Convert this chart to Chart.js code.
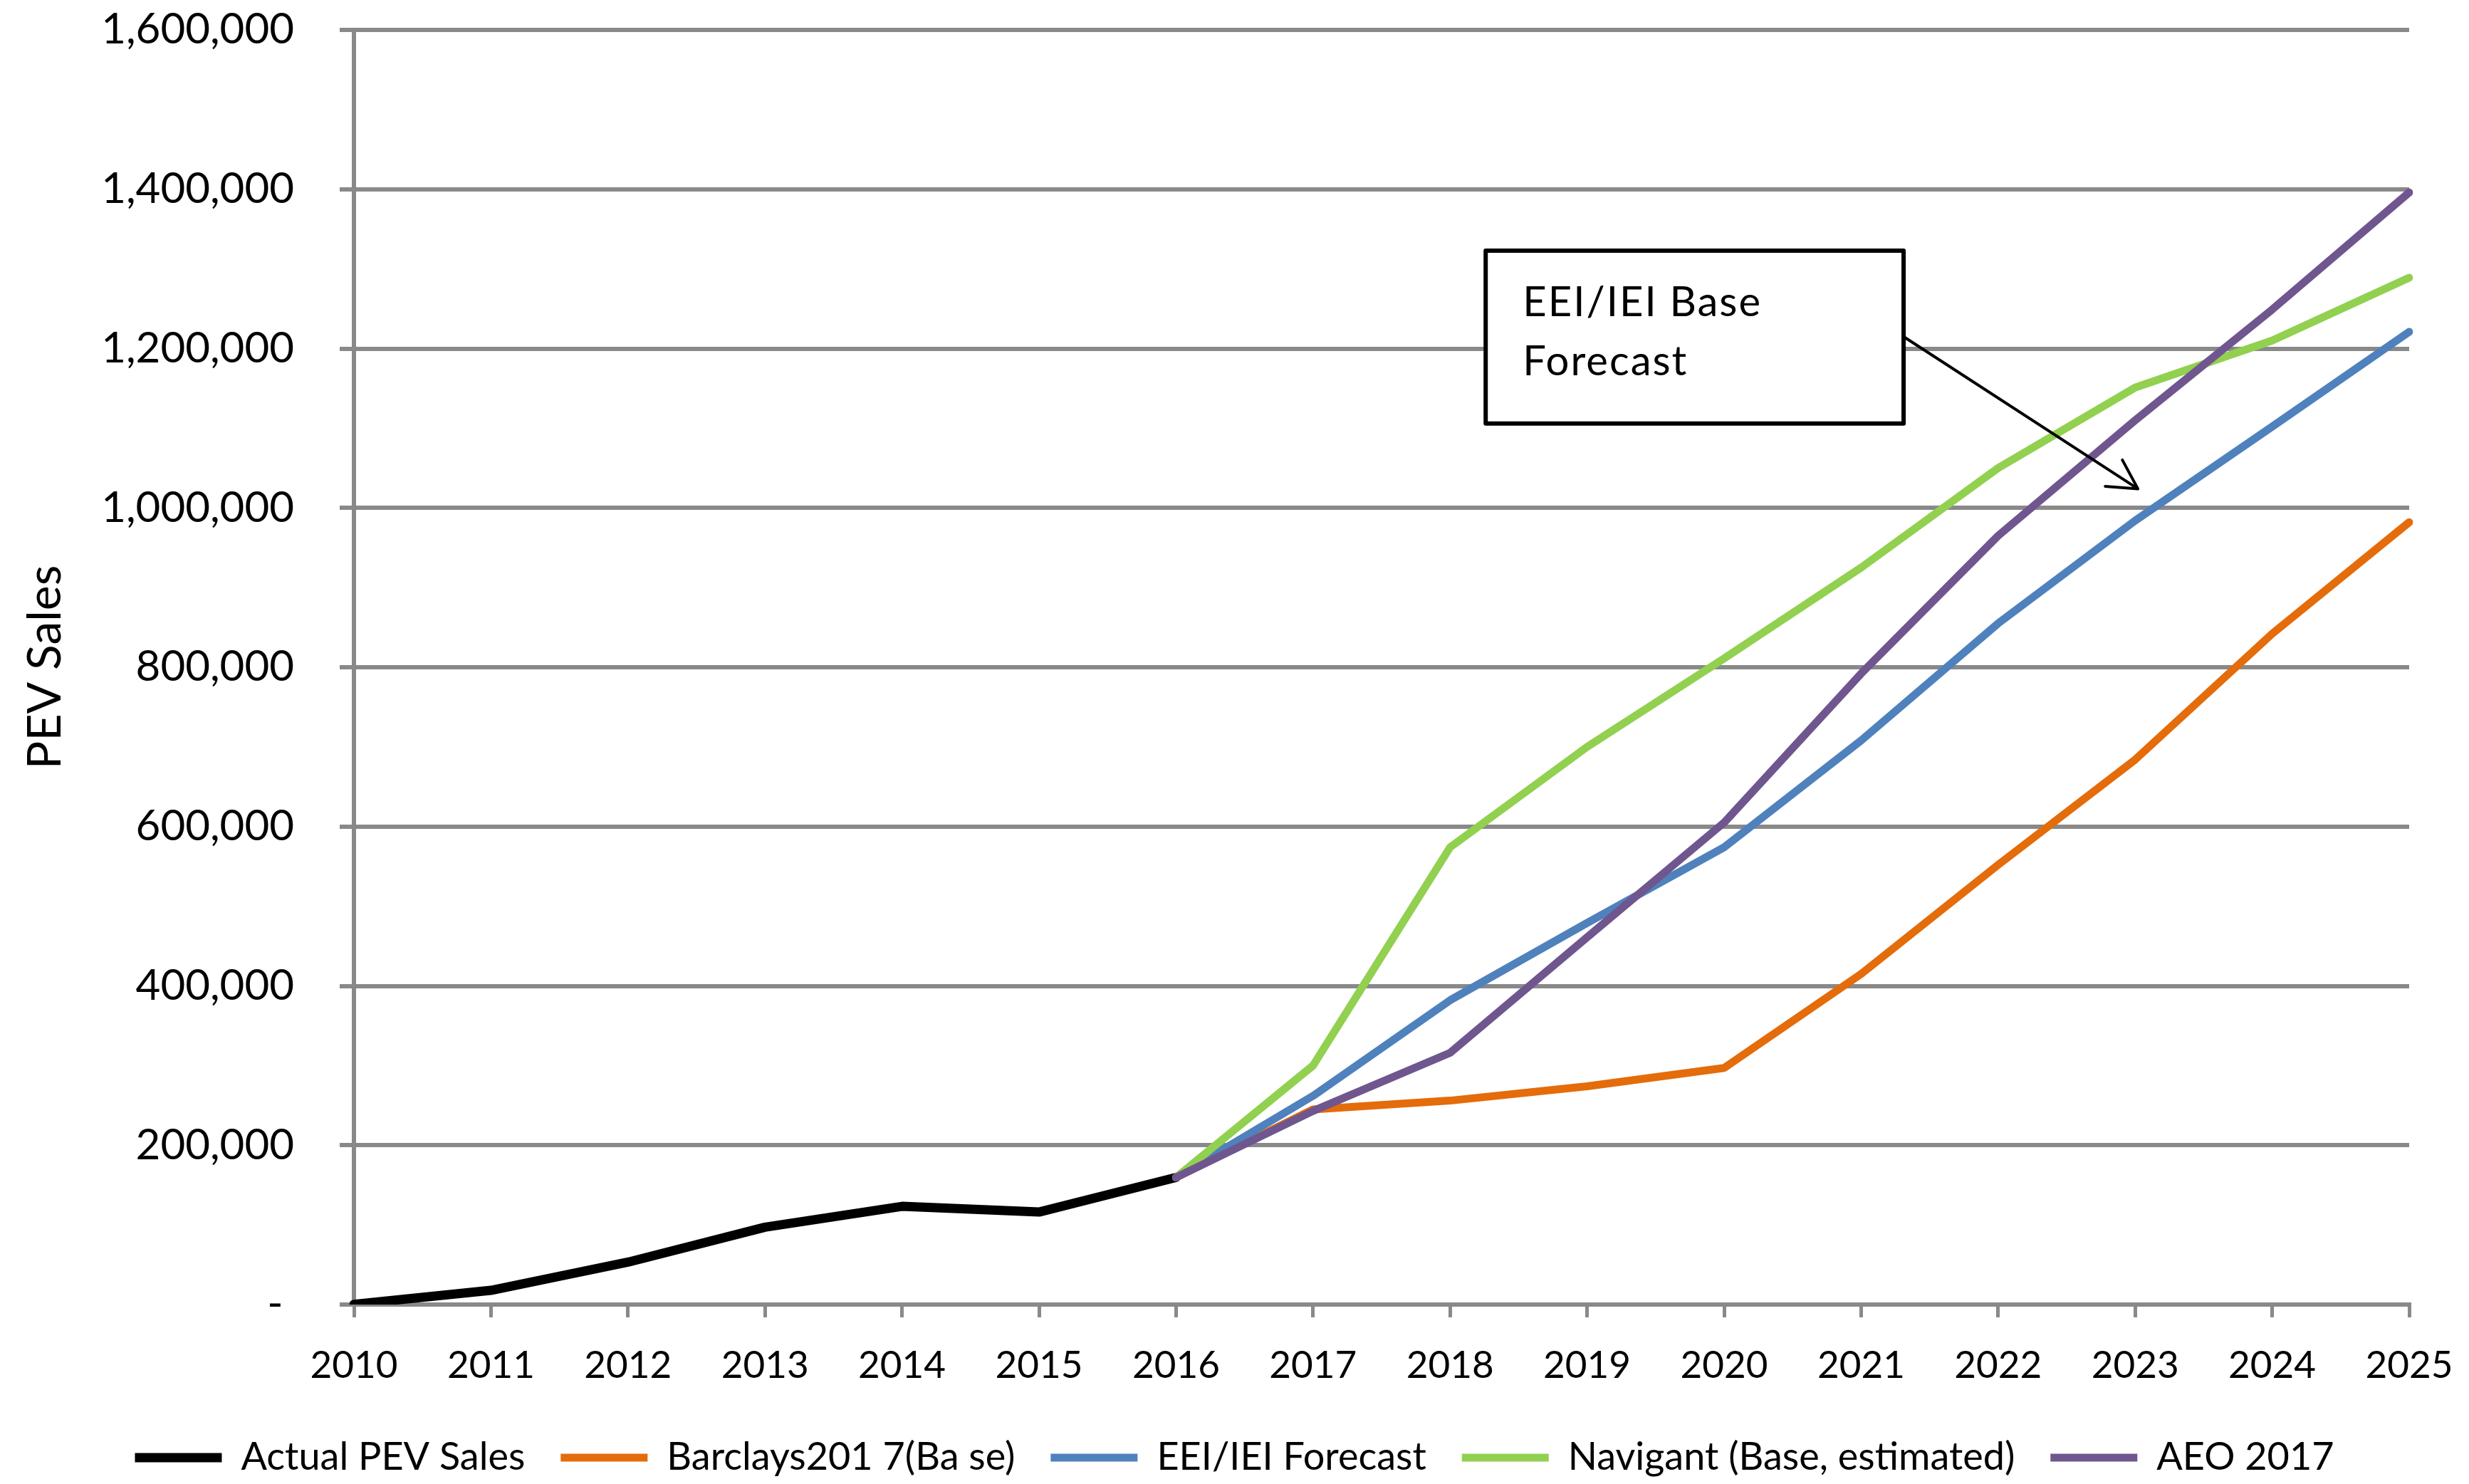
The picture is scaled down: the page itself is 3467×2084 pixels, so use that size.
<!DOCTYPE html>
<html>
<head>
<meta charset="utf-8">
<title>PEV Sales</title>
<script src="https://cdn.jsdelivr.net/npm/chart.js@4"></script>
<style>
  html, body { margin: 0; padding: 0; background: #fff; }
  #wrap { width: 3467px; height: 2084px; position: relative; }
</style>
</head>
<body>
<div id="wrap"><canvas id="pevChart"></canvas></div>
<script>
// Years on the x axis
const years = ['2010','2011','2012','2013','2014','2015','2016','2017','2018','2019','2020','2021','2022','2023','2024','2025'];

// Sales per series (null = no value for that year)
const actualSales = [345, 17800, 53200, 97100, 123300, 116100, 159600, null, null, null, null, null, null, null, null, null];
const barclays = [null, null, null, null, null, null, 159600, 245000, 256000, 274000, 297000, 415000, 552000, 684000, 842000, 982000];
const eeiForecast = [null, null, null, null, null, null, 159600, 262000, 382000, 479000, 574000, 708000, 855000, 984000, 1102000, 1221000];
const navigant = [null, null, null, null, null, null, 159600, 300000, 574000, 700000, 811000, 925000, 1050000, 1151000, 1210000, 1289000];
const aeo2017 = [null, null, null, null, null, null, 159600, 243000, 316000, 461000, 605000, 792000, 965000, 1110000, 1249000, 1396000];

const seriesNames = ['Actual PEV Sales', 'Barclays201 7(Ba se)', 'EEI/IEI Forecast', 'Navigant (Base, estimated)', 'AEO 2017'];
const seriesColors = ['#000000', '#E46C0A', '#4F81BD', '#92D050', '#6F568F'];
const seriesData = [actualSales, barclays, eeiForecast, navigant, aeo2017];

// Callout: box corners and arrow in data units (category index, sales)
const calloutLines = ['EEI/IEI Base', 'Forecast'];
const calloutBox = { x0: 8.26, x1: 11.31, y0: 1323000, y1: 1106000 };
const calloutArrow = { fromX: 11.31, fromY: 1215000, toX: 13.02, toY: 1024000 };

const FONT = 'Lato';
const GRID = '#898989';

const calloutPlugin = {
    id: 'callout',
    afterDatasetsDraw(chart) {
        const { ctx, scales: { x, y } } = chart;
        const left = x.getPixelForValue(calloutBox.x0);
        const right = x.getPixelForValue(calloutBox.x1);
        const top = y.getPixelForValue(calloutBox.y0);
        const bottom = y.getPixelForValue(calloutBox.y1);
        ctx.save();
        ctx.fillStyle = '#fff';
        ctx.fillRect(left, top, right - left, bottom - top);
        ctx.lineWidth = 6;
        ctx.strokeStyle = '#000';
        ctx.lineJoin = 'round';
        ctx.strokeRect(left, top, right - left, bottom - top);

        ctx.fillStyle = '#000';
        ctx.font = '58px ' + FONT;
        ctx.letterSpacing = '2px';
        ctx.textBaseline = 'alphabetic';
        ctx.textAlign = 'left';
        ctx.fillText(calloutLines[0], left + 52, top + 92);
        ctx.fillText(calloutLines[1], left + 52, top + 175);
        ctx.letterSpacing = '0px';

        // arrow with open head
        const ax = x.getPixelForValue(calloutArrow.fromX);
        const ay = y.getPixelForValue(calloutArrow.fromY);
        const bx = x.getPixelForValue(calloutArrow.toX);
        const by = y.getPixelForValue(calloutArrow.toY);
        ctx.lineWidth = 4;
        ctx.lineCap = 'round';
        ctx.beginPath();
        ctx.moveTo(ax, ay);
        ctx.lineTo(bx, by);
        const ang = Math.atan2(by - ay, bx - ax);
        const head = 46;
        ctx.moveTo(bx + head * Math.cos(ang + Math.PI - 0.5), by + head * Math.sin(ang + Math.PI - 0.5));
        ctx.lineTo(bx, by);
        ctx.lineTo(bx + head * Math.cos(ang + Math.PI + 0.5), by + head * Math.sin(ang + Math.PI + 0.5));
        ctx.stroke();
        ctx.restore();
    }
};

const datasets = seriesNames.map((name, i) => ({
    label: name,
    data: seriesData[i],
    borderColor: seriesColors[i],
    backgroundColor: seriesColors[i],
    borderWidth: i === 0 ? 13 : 11,
    borderCapStyle: 'round',
    borderJoinStyle: 'round',
    pointRadius: 0,
    pointHoverRadius: 0,
    tension: 0,
    fill: false,
    spanGaps: false,
    order: seriesNames.length - i
}));

const ctx = document.getElementById('pevChart').getContext('2d');
const chart = new Chart(ctx, {
    type: 'line',
    data: { labels: years, datasets: datasets },
    options: {
        responsive: true,
        maintainAspectRatio: false,
        animation: false,
        devicePixelRatio: 1,
        layout: { padding: { left: 0, right: 0, top: 42, bottom: 0 } },
        plugins: {
            tooltip: { enabled: false },
            legend: {
                position: 'bottom',
                labels: {
                    usePointStyle: true,
                    pointStyle: 'line',
                    pointStyleWidth: 122,
                    boxHeight: 54,
                    padding: 50,
                    color: '#000',
                    font: { family: FONT, size: 54 },
                    sort: (a, b) => a.datasetIndex - b.datasetIndex
                }
            }
        },
        scales: {
            x: {
                type: 'category',
                offset: false,
                grid: { display: true, drawOnChartArea: false, drawTicks: true, tickLength: 18, color: GRID, lineWidth: 5 },
                border: { display: true, color: GRID, width: 6 },
                ticks: { color: '#000', font: { family: FONT, size: 53 }, padding: 36, autoSkip: false, maxRotation: 0 },
                afterFit: s => { s.height = 138; s.paddingRight = 84; }
            },
            y: {
                min: 0,
                max: 1600000,
                grid: { color: GRID, lineWidth: 6, tickLength: 20, drawTicks: true },
                border: { display: true, color: GRID, width: 6 },
                ticks: {
                    stepSize: 200000,
                    padding: 64,
                    color: '#000',
                    font: { family: FONT, size: 60 },
                    callback: v => v === 0 ? '- ' : v.toLocaleString('en-US')
                },
                title: { display: true, text: 'PEV Sales', color: '#000', font: { family: FONT, size: 66 }, padding: { top: 24, bottom: 0 } },
                afterFit: s => { s.width = 497; s.paddingTop = 0; s.paddingBottom = 0; }
            }
        }
    },
    plugins: [calloutPlugin]
});
</script>
</body>
</html>
